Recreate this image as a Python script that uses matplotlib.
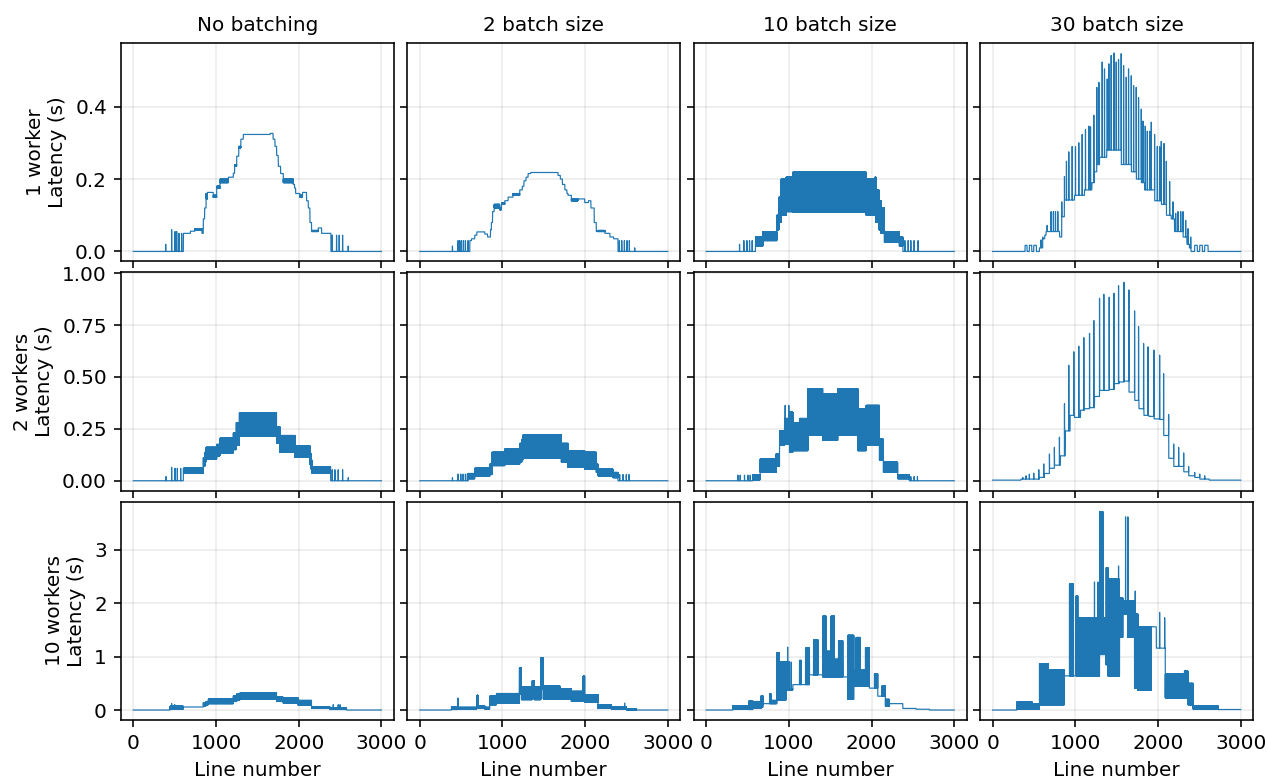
import numpy as np
import matplotlib
matplotlib.use("Agg")
import matplotlib.pyplot as plt

# panel labels
batch_titles = ["No batching", "2 batch size", "10 batch size", "30 batch size"]
worker_labels = ["1 worker", "2 workers", "10 workers"]
row_yticks = [[0.0, 0.2, 0.4], [0.0, 0.25, 0.5, 0.75, 1.0], [0, 1, 2, 3]]
n_lines = 3000

# each series: steps (start line, low, high) -> value holds until next start,
# alternating low/high every line when they differ; spikes (line, value)
# ---- 1 worker ----
w1_nobatch_steps = [
    (0, 0, 0), (605, 0.05, 0.05), (690, 0.056, 0.056), (745, 0.06, 0.063),
    (830, 0.05, 0.05), (846, 0.09, 0.09), (862, 0.12, 0.12), (880, 0.145, 0.16),
    (895, 0.163, 0.163), (967, 0.149, 0.155), (1008, 0.174, 0.18), (1048, 0.19, 0.2),
    (1149, 0.205, 0.205), (1209, 0.216, 0.216), (1225, 0.235, 0.24), (1250, 0.263, 0.263),
    (1275, 0.286, 0.29), (1300, 0.31, 0.31), (1330, 0.323, 0.323), (1655, 0.326, 0.326),
    (1690, 0.31, 0.31), (1713, 0.29, 0.29), (1733, 0.265, 0.265), (1753, 0.235, 0.235),
    (1781, 0.215, 0.215), (1814, 0.19, 0.2), (1934, 0.185, 0.185), (1950, 0.175, 0.175),
    (1963, 0.16, 0.16), (2015, 0.15, 0.155), (2047, 0.163, 0.163), (2095, 0.14, 0.14),
    (2116, 0.12, 0.12), (2136, 0.08, 0.08), (2156, 0.055, 0.058), (2237, 0.065, 0.065),
    (2277, 0.05, 0.05), (2390, 0, 0),
]
w1_nobatch_spikes = [(391, 0.02), (463, 0.06), (504, 0.055), (524, 0.055), (552, 0.05),
                     (584, 0.05), (2406, 0.045), (2458, 0.045), (2490, 0.045), (2531, 0.045),
                     (2599, 0.015)]

w1_b2_steps = [
    (0, 0, 0), (605, 0.03, 0.03), (625, 0.035, 0.035), (665, 0.045, 0.045), (690, 0.054, 0.054),
    (786, 0.048, 0.048), (820, 0.04, 0.04), (855, 0.06, 0.06), (866, 0.08, 0.08), (880, 0.11, 0.11),
    (900, 0.12, 0.13), (967, 0.115, 0.12), (987, 0.13, 0.135), (1028, 0.14, 0.14), (1068, 0.15, 0.15),
    (1128, 0.155, 0.16), (1209, 0.17, 0.17), (1240, 0.18, 0.18), (1260, 0.195, 0.195),
    (1285, 0.205, 0.205), (1310, 0.215, 0.215), (1342, 0.218, 0.218), (1672, 0.21, 0.21),
    (1700, 0.2, 0.2), (1725, 0.185, 0.185), (1755, 0.17, 0.17), (1780, 0.16, 0.16),
    (1793, 0.155, 0.155), (1834, 0.14, 0.145), (1914, 0.145, 0.145), (1995, 0.135, 0.135),
    (2040, 0.14, 0.14), (2070, 0.12, 0.12), (2110, 0.08, 0.08), (2135, 0.055, 0.055),
    (2156, 0.055, 0.058), (2240, 0.05, 0.05), (2300, 0.04, 0.04), (2345, 0.035, 0.035),
    (2398, 0, 0),
]
w1_b2_spikes = [(395, 0.015), (463, 0.03), (483, 0.03), (504, 0.03), (528, 0.03), (552, 0.03),
                (584, 0.03), (2415, 0.03), (2443, 0.03), (2475, 0.03), (2507, 0.03), (2535, 0.03),
                (2600, 0.01)]

w1_b10_steps = [
    (0, 0, 0), (596, 0.015, 0.04), (685, 0.03, 0.055), (854, 0.06, 0.1), (880, 0.08, 0.15),
    (906, 0.1, 0.2), (967, 0.11, 0.205), (1048, 0.108, 0.219), (1935, 0.1, 0.2),
    (2040, 0.1, 0.205), (2055, 0.08, 0.17), (2090, 0.06, 0.14), (2116, 0.05, 0.12),
    (2156, 0.025, 0.055), (2337, 0.015, 0.04), (2380, 0, 0),
]
w1_b10_spikes = [(403, 0.02), (455, 0.03), (492, 0.03), (524, 0.03), (556, 0.03), (2403, 0.03),
                 (2443, 0.03), (2475, 0.03), (2515, 0.03), (2563, 0.03)]

w1_b30_steps = [
    (0, 0, 0), (392, 0.017, 0.017), (416, 0, 0), (444, 0.017, 0.017), (473, 0, 0),
    (497, 0.017, 0.017), (529, 0, 0), (566, 0.01, 0.01), (606, 0.035, 0.035), (630, 0.045, 0.045),
    (646, 0.055, 0.055), (810, 0.04, 0.04), (836, 0.096, 0.096), (868, 0.142, 0.142),
    (990, 0.155, 0.155), (1111, 0.17, 0.17), (1200, 0.19, 0.19), (1230, 0.22, 0.22),
    (1260, 0.24, 0.24), (1293, 0.26, 0.26), (1380, 0.28, 0.28), (1555, 0.24, 0.24),
    (1677, 0.22, 0.22), (1737, 0.2, 0.2), (1798, 0.19, 0.19), (1838, 0.17, 0.17),
    (1959, 0.14, 0.14), (2040, 0.13, 0.13), (2101, 0.1, 0.1), (2160, 0.09, 0.09),
    (2200, 0.055, 0.055), (2303, 0.04, 0.04), (2350, 0.02, 0.02), (2380, 0.01, 0.01),
    (2400, 0, 0), (2444, 0.017, 0.017), (2476, 0, 0), (2505, 0.017, 0.017), (2537, 0, 0),
    (2565, 0.017, 0.017), (2606, 0, 0),
]
w1_b30_spikes = [
    (586, 0.032), (606, 0.04), (659, 0.072), (707, 0.11), (735, 0.11), (760, 0.11), (788, 0.11),
    (836, 0.137), (869, 0.207), (893, 0.249), (921, 0.275), (962, 0.29), (1002, 0.289),
    (1042, 0.30), (1083, 0.323), (1123, 0.337), (1164, 0.346), (1184, 0.344), (1224, 0.376),
    (1260, 0.453), (1285, 0.467), (1325, 0.523), (1353, 0.504), (1386, 0.476), (1406, 0.518),
    (1434, 0.541), (1467, 0.548), (1495, 0.523), (1523, 0.53), (1555, 0.546), (1584, 0.513),
    (1616, 0.481), (1644, 0.504), (1677, 0.485), (1705, 0.458), (1737, 0.453), (1765, 0.425),
    (1798, 0.393), (1818, 0.36), (1846, 0.346), (1871, 0.332), (1899, 0.332), (1919, 0.357),
    (1959, 0.323), (1992, 0.29), (2020, 0.289), (2040, 0.304), (2073, 0.298), (2101, 0.249),
    (2141, 0.193), (2182, 0.137), (2214, 0.105), (2242, 0.11), (2275, 0.11), (2303, 0.11),
    (2335, 0.086), (2363, 0.063), (2396, 0.04),
]

# ---- 2 workers ----
w2_nobatch_steps = [
    (0, 0, 0), (605, 0.035, 0.06), (846, 0.07, 0.11), (865, 0.09, 0.137), (879, 0.105, 0.161),
    (1008, 0.12, 0.175), (1048, 0.134, 0.205), (1209, 0.15, 0.23), (1245, 0.17, 0.28),
    (1282, 0.215, 0.327), (1733, 0.18, 0.26), (1773, 0.137, 0.218), (1955, 0.113, 0.169),
    (2136, 0.08, 0.13), (2150, 0.056, 0.1), (2160, 0.037, 0.068), (2386, 0, 0),
]
w2_nobatch_spikes = [(395, 0.02), (463, 0.065), (504, 0.06), (532, 0.06), (572, 0.06),
                     (2406, 0.053), (2438, 0.053), (2478, 0.053), (2531, 0.053), (2600, 0.015)]

w2_b2_steps = [
    (0, 0, 0), (585, 0.01, 0.035), (665, 0.021, 0.06), (846, 0.03, 0.08), (875, 0.073, 0.137),
    (1028, 0.08, 0.153), (1209, 0.09, 0.18), (1235, 0.1, 0.2), (1249, 0.108, 0.221),
    (1713, 0.09, 0.18), (1793, 0.065, 0.145), (1995, 0.056, 0.137), (2136, 0.04, 0.08),
    (2156, 0.024, 0.056), (2337, 0.015, 0.04), (2398, 0, 0),
]
w2_b2_spikes = [(395, 0.015), (463, 0.032), (496, 0.032), (524, 0.032), (552, 0.032), (576, 0.032),
                (2418, 0.03), (2458, 0.03), (2498, 0.03), (2531, 0.03)]

w2_b10_steps = [
    (0, 0, 0), (564, 0.005, 0.03), (653, 0.04, 0.105), (846, 0.07, 0.13), (887, 0.17, 0.24),
    (947, 0.177, 0.3), (1008, 0.137, 0.33), (1048, 0.145, 0.28), (1128, 0.145, 0.3),
    (1229, 0.218, 0.444), (1410, 0.195, 0.42), (1592, 0.218, 0.444), (1834, 0.145, 0.347),
    (1935, 0.17, 0.363), (2096, 0.1, 0.2), (2144, 0.04, 0.089), (2317, 0.01, 0.03), (2458, 0, 0),
]
w2_b10_spikes = [(383, 0.027), (411, 0.027), (463, 0.027), (504, 0.027), (532, 0.027),
                 (955, 0.363), (999, 0.363), (2475, 0.02), (2515, 0.02), (2555, 0.02)]

w2_b30_steps = [
    (0, 0.003, 0.003), (343, 0.008, 0.008), (566, 0.016, 0.016), (626, 0.035, 0.035),
    (687, 0.06, 0.06), (747, 0.075, 0.075), (820, 0.12, 0.12), (877, 0.24, 0.24),
    (937, 0.315, 0.315), (990, 0.305, 0.305), (1063, 0.34, 0.34), (1111, 0.347, 0.347),
    (1172, 0.352, 0.352), (1232, 0.406, 0.406), (1293, 0.435, 0.435), (1410, 0.44, 0.44),
    (1470, 0.468, 0.468), (1530, 0.476, 0.476), (1590, 0.48, 0.48), (1650, 0.427, 0.427),
    (1718, 0.387, 0.387), (1770, 0.347, 0.347), (1830, 0.315, 0.315), (1890, 0.31, 0.31),
    (1952, 0.298, 0.298), (2021, 0.295, 0.295), (2070, 0.218, 0.218), (2130, 0.108, 0.108),
    (2190, 0.069, 0.069), (2312, 0.043, 0.043), (2372, 0.024, 0.024), (2445, 0.016, 0.016),
    (2506, 0.008, 0.008), (2620, 0.003, 0.003),
]
w2_b30_spikes = [
    (364, 0.016), (404, 0.024), (444, 0.032), (497, 0.037), (558, 0.053), (618, 0.081),
    (687, 0.129), (747, 0.161), (808, 0.21), (869, 0.371), (921, 0.556), (982, 0.621),
    (1042, 0.648), (1103, 0.689), (1172, 0.71), (1224, 0.771), (1293, 0.879), (1345, 0.898),
    (1410, 0.884), (1467, 0.903), (1523, 0.939), (1588, 0.956), (1648, 0.919), (1717, 0.818),
    (1765, 0.742), (1826, 0.661), (1879, 0.645), (1951, 0.629), (2020, 0.605), (2068, 0.516),
    (2129, 0.319), (2190, 0.177), (2250, 0.161), (2311, 0.134), (2371, 0.068), (2444, 0.04),
    (2505, 0.032), (2565, 0.024),
]

# ---- 10 workers ----
w10_nobatch_steps = [
    (0, 0, 0), (443, 0.02, 0.07), (605, 0.057, 0.057), (846, 0.08, 0.14), (880, 0.1, 0.16),
    (907, 0.12, 0.207), (1209, 0.16, 0.26), (1250, 0.19, 0.3), (1290, 0.207, 0.32),
    (1733, 0.16, 0.24), (1814, 0.13, 0.226), (1995, 0.088, 0.18), (2156, 0.04, 0.06),
    (2378, 0.01, 0.04), (2579, 0, 0),
]
w10_nobatch_spikes = [(463, 0.12), (500, 0.1), (540, 0.08), (2418, 0.1), (2478, 0.1), (2500, 0.1)]

w10_b2_steps = [
    (0, 0, 0), (383, 0.01, 0.06), (463, 0.02, 0.05), (690, 0.05, 0.276), (705, 0.03, 0.08),
    (786, 0.02, 0.05), (846, 0.1, 0.26), (927, 0.13, 0.31), (1205, 0.3, 0.79), (1230, 0.195, 0.433),
    (1360, 0.3, 0.55), (1385, 0.195, 0.433), (1465, 0.4, 0.98), (1495, 0.207, 0.445),
    (1700, 0.2, 0.4), (1834, 0.163, 0.35), (1975, 0.3, 0.634), (1995, 0.144, 0.29),
    (2156, 0.03, 0.1), (2317, 0.02, 0.06), (2500, 0.005, 0.02), (2620, 0, 0),
]
w10_b2_spikes = [(463, 0.226), (2478, 0.13)]

w10_b10_steps = [
    (0, 0, 0), (322, 0.02, 0.08), (516, 0.01, 0.17), (564, 0.03, 0.16), (665, 0.05, 0.27),
    (685, 0.12, 0.12), (766, 0.12, 0.3), (786, 0.12, 0.18), (854, 0.18, 1.07), (887, 0.19, 0.9),
    (967, 0.38, 0.9), (1008, 0.38, 0.4), (1048, 0.477, 0.477), (1128, 0.477, 0.93),
    (1148, 0.477, 0.477), (1201, 0.477, 1.16), (1249, 0.66, 0.66), (1298, 0.66, 1.32),
    (1350, 0.66, 0.66), (1410, 0.62, 1.76), (1450, 0.62, 1.1), (1511, 0.62, 1.76),
    (1551, 0.62, 0.95), (1600, 0.62, 1.3), (1652, 0.62, 0.62), (1713, 0.2, 1.4),
    (1785, 0.45, 0.75), (1814, 0.45, 1.36), (1862, 0.45, 0.75), (1926, 0.45, 1.17),
    (1975, 0.41, 0.41), (2035, 0.41, 0.68), (2076, 0.26, 0.26), (2124, 0.26, 0.45),
    (2168, 0.07, 0.2), (2217, 0.12, 0.12), (2378, 0.03, 0.03), (2539, 0.015, 0.015), (2700, 0, 0),
]
w10_b10_spikes = [(985, 1.18), (1028, 0.9)]

w10_b30_steps = [
    (0, 0, 0), (291, 0.02, 0.15), (480, 0.02, 0.12), (566, 0.1, 0.87), (586, 0.1, 0.25),
    (610, 0.1, 0.87), (675, 0.1, 0.75), (869, 0.64, 0.64), (929, 0.64, 2.36), (978, 0.64, 0.64),
    (1010, 0.64, 2.14), (1030, 0.64, 1.73), (1293, 1.04, 3.72), (1333, 1.04, 1.73),
    (1374, 0.85, 2.67), (1394, 0.64, 2.45), (1535, 1.36, 2.1), (1575, 1.8, 2.05),
    (1636, 1.36, 2.05), (1717, 0.41, 1.8), (1757, 0.37, 1.56), (1919, 1.56, 1.56),
    (1980, 1.16, 1.16), (2089, 0.23, 0.67), (2320, 0.23, 0.73), (2363, 0.1, 0.5),
    (2424, 0.02, 0.08), (2727, 0.01, 0.01),
]
w10_b30_spikes = [(1232, 2.4), (1273, 2.4), (1523, 2.7), (1608, 3.62), (1636, 3.62),
                  (1725, 2.23), (2020, 1.83), (2081, 1.73)]

panels = [
    [(w1_nobatch_steps, w1_nobatch_spikes), (w1_b2_steps, w1_b2_spikes),
     (w1_b10_steps, w1_b10_spikes), (w1_b30_steps, w1_b30_spikes)],
    [(w2_nobatch_steps, w2_nobatch_spikes), (w2_b2_steps, w2_b2_spikes),
     (w2_b10_steps, w2_b10_spikes), (w2_b30_steps, w2_b30_spikes)],
    [(w10_nobatch_steps, w10_nobatch_spikes), (w10_b2_steps, w10_b2_spikes),
     (w10_b10_steps, w10_b10_spikes), (w10_b30_steps, w10_b30_spikes)],
]


def build_series(steps, spikes):
    y = np.zeros(n_lines + 1)
    ends = [s[0] for s in steps[1:]] + [n_lines + 1]
    for (start, lo, hi), end in zip(steps, ends):
        seg = np.full(end - start, float(lo))
        seg[1::2] = hi
        y[start:end] = seg
    for x, top in spikes:
        y[x] = top
    return y


lines = np.arange(n_lines + 1)

plt.rcParams['font.size'] = 10
fig, axes = plt.subplots(3, 4, figsize=(1268 / 144, 778 / 144), dpi=144,
                         sharex=True, sharey='row')
fig.subplots_adjust(left=0.0954, right=0.9882, top=0.9447, bottom=0.0746,
                    wspace=0.05, hspace=0.05)

for r in range(3):
    for c in range(4):
        ax = axes[r, c]
        steps, spikes = panels[r][c]
        ax.plot(lines, build_series(steps, spikes), color='#1f77b4', linewidth=0.6)
        ax.grid(True, alpha=0.25)
        if r == 0:
            ax.set_title(batch_titles[c], fontsize=10)
        if c == 0:
            ax.set_ylabel(worker_labels[r] + "\nLatency (s)")
            ax.set_yticks(row_yticks[r])
        if r == 2:
            ax.set_xlabel("Line number")
        ax.set_xticks([0, 1000, 2000, 3000])

fig.savefig("out.png", dpi=144)
